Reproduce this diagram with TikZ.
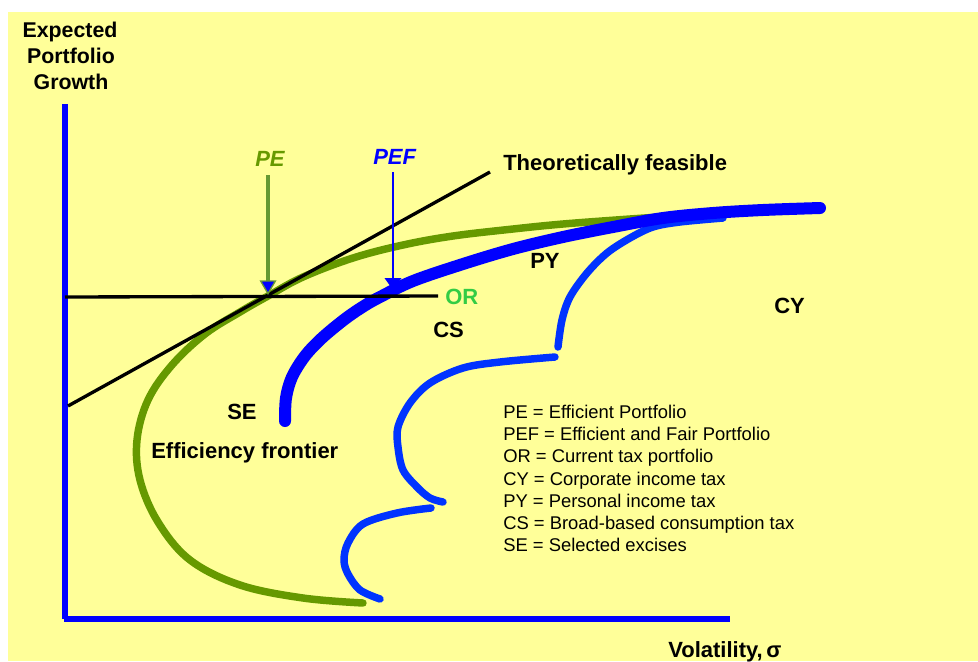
\documentclass[tikz,border=0pt]{standalone}
\usepackage{fontspec}
\setmainfont{Liberation Sans}
\usetikzlibrary{arrows.meta}
\definecolor{bgyellow}{HTML}{FFFF99}
\definecolor{frontgreen}{HTML}{669900}
\definecolor{arrowgreen}{HTML}{669933}
\definecolor{orgreen}{HTML}{33CC44}
\definecolor{pureblue}{HTML}{0000FF}
\definecolor{curveblue}{HTML}{0033FF}
\tikzset{
  lbl/.style={inner sep=0pt, anchor=base west, font=\fontsize{16.5}{19}\selectfont\bfseries},
  ilbl/.style={lbl, font=\fontsize{16.5}{19}\selectfont\bfseries\itshape},
  axlbl/.style={inner sep=0pt, anchor=base, font=\fontsize{16}{19}\selectfont\bfseries},
  legend/.style={inner sep=0pt, anchor=base west, font=\fontsize{13.8}{16.6}\selectfont},
  blackline/.style={draw=black, line width=2.5pt},
  greencurve/.style={draw=frontgreen, line width=5.6pt, line cap=round, line join=round},
  thickblue/.style={draw=pureblue, line width=9pt, line cap=round, line join=round},
  thinblue/.style={draw=curveblue, line width=5.6pt, line cap=round, line join=round},
}
\begin{document}
\begin{tikzpicture}[x=0.75pt, y=-0.75pt]
\useasboundingbox (0,0) rectangle (978,661);
\fill[white] (0,0) rectangle (978,661);
\fill[bgyellow] (8,12) rectangle (978,661);

% axes
\fill[pureblue] (62,104) rectangle (68,619);
\fill[pureblue] (64,616) rectangle (730,622);

% axis labels
\node[axlbl] (ax1) at (70,37) {Expected};
\node[axlbl] (ax2) at (71,63) {Portfolio};
\node[axlbl] (ax3) at (71,89) {Growth};
\node[lbl] (xlab) at (668,657) {Volatility,\,σ};

% efficiency frontier (green)
\draw[greencurve] plot[smooth, tension=0.6] coordinates {
 (363,603) (303,598) (240,585) (190,560) (158,522) (140,480) (137,440)
 (148,400) (172,365) (205,334) (240,312) (268,296) (303,277) (353,258)
 (403,245) (453,236) (513,229) (563,224) (630,219) (660,217)};

% thin blue curves
\draw[thinblue] plot[smooth, tension=0.55] coordinates {
 (723,218) (680,222) (653,227) (630,238) (607,253) (587,273) (570,297)
 (562,320) (558,347)};
\draw[thinblue] plot[smooth, tension=0.55] coordinates {
 (555,357) (500,362) (463,368) (430,383) (410,403) (398,427) (398,447)
 (403,470) (417,487) (430,498) (443,502)};
\draw[thinblue] plot[smooth, tension=0.55] coordinates {
 (431,508) (397,513) (363,524) (348,543) (344,560) (348,574) (360,590)
 (380,599)};

% thick blue curve
\draw[thickblue] plot[smooth, tension=0.55] coordinates {
 (285,421) (286,398) (292,377) (305,356) (322,338) (345,319) (364,306)
 (380,297) (413,281) (463,264) (513,249) (563,237) (613,227) (663,218)
 (713,213) (763,210) (820,208)};

% black lines
\coordinate (orL) at (65,297);
\coordinate (orR) at (438,296);
\coordinate (tfL) at (68,406);
\coordinate (tfR) at (490,172);
\draw[blackline] (orL) -- (orR);
\draw[blackline] (tfL) -- (tfR);

% arrows
\coordinate (peTop) at (268,175);
\coordinate (peTip) at (268,295);
\coordinate (pefTop) at (393,172);
\coordinate (pefTip) at (393,290);
\draw[draw=arrowgreen, line width=2.4pt,
  -{Triangle[width=12.5pt,length=11pt,fill=pureblue,line width=1pt]}] (peTop) -- (peTip);
\draw[draw=pureblue, line width=1.1pt,
  -{Triangle[width=12.5pt,length=9pt,fill=pureblue]}] (pefTop) -- (pefTip);

% labels
\node[ilbl, text=frontgreen] (pe) at (255,166) {PE};
\node[ilbl, text=pureblue] (pef) at (373,164) {PEF};
\node[lbl] (tf) at (503,170) {Theoretically feasible};
\node[lbl, text=orgreen] (or) at (445,304) {OR};
\node[lbl] (py) at (530,268) {PY};
\node[lbl] (cy) at (774,313) {CY};
\node[lbl] (cs) at (433,337) {CS};
\node[lbl] (se) at (227,419) {SE};
\node[lbl] (ef) at (151,458) {Efficiency frontier};

% legend
\node[legend] (l1) at (503,418) {PE = Efficient Portfolio};
\node[legend] (l2) at (503,440) {PEF = Efficient and Fair Portfolio};
\node[legend] (l3) at (503,462.5) {OR = Current tax portfolio};
\node[legend] (l4) at (503,485) {CY = Corporate income tax};
\node[legend] (l5) at (503,507) {PY = Personal income tax};
\node[legend] (l6) at (503,529) {CS = Broad-based consumption tax};
\node[legend] (l7) at (503,551) {SE = Selected excises};
\end{tikzpicture}
\end{document}
